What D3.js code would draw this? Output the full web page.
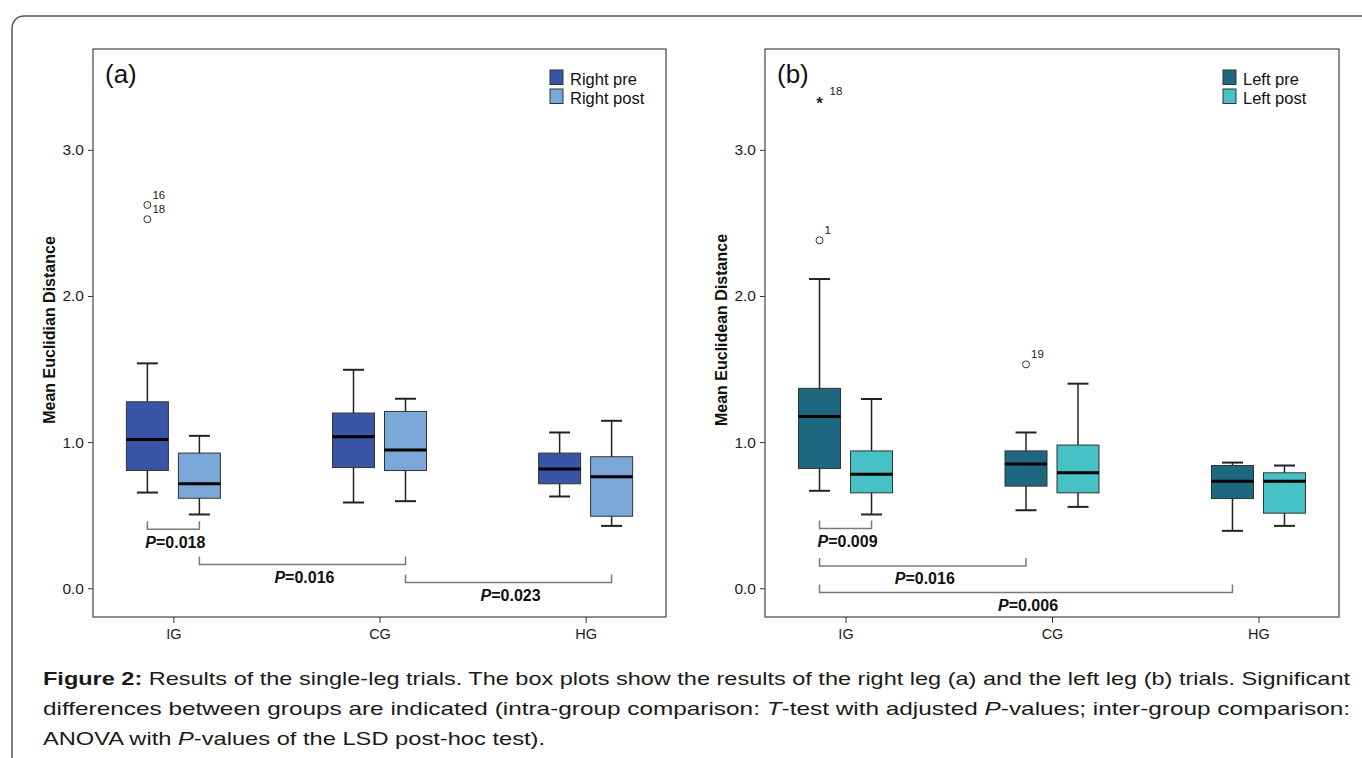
<!DOCTYPE html>
<html>
<head>
<meta charset="utf-8">
<script src="https://cdnjs.cloudflare.com/ajax/libs/d3/7.8.5/d3.min.js"></script>
<style>
  body { margin: 0; background: #fff; }
  svg { font-family: Arial, "Liberation Sans", sans-serif; display: block; }
</style>
</head>
<body>
<svg id="chart" width="1362" height="758"></svg>
<script>
var groups = ["IG", "CG", "HG"];
var yTicks = [0, 1, 2, 3];

// [lower whisker, Q1, median, Q3, upper whisker] per group
var rightPre  = [[0.655, 0.806, 1.018, 1.276, 1.539], [0.587, 0.826, 1.037, 1.199, 1.495], [0.628, 0.715, 0.817, 0.925, 1.066]];
var rightPost = [[0.505, 0.616, 0.715, 0.925, 1.043], [0.596, 0.806, 0.947, 1.210, 1.297], [0.427, 0.493, 0.763, 0.900, 1.146]];
var leftPre   = [[0.667, 0.820, 1.176, 1.368, 2.116], [0.534, 0.699, 0.850, 0.940, 1.066], [0.393, 0.614, 0.733, 0.840, 0.860]];
var leftPost  = [[0.505, 0.653, 0.780, 0.940, 1.295], [0.557, 0.653, 0.790, 0.980, 1.400], [0.427, 0.514, 0.733, 0.790, 0.840]];

var rightOutliers = [
  {group: "IG", series: 0, value: 2.623, id: "16", mark: "o"},
  {group: "IG", series: 0, value: 2.525, id: "18", mark: "o"}
];
var leftOutliers = [
  {group: "IG", series: 0, value: 3.342, id: "18", mark: "*"},
  {group: "IG", series: 0, value: 2.381, id: "1", mark: "o"},
  {group: "CG", series: 0, value: 1.532, id: "19", mark: "o"}
];

var rightTests = [
  {from: ["IG", 0], to: ["IG", 1], level: 0.404, p: "0.018"},
  {from: ["IG", 1], to: ["CG", 1], level: 0.162, p: "0.016"},
  {from: ["CG", 1], to: ["HG", 1], level: 0.039, p: "0.023"}
];
var leftTests = [
  {from: ["IG", 0], to: ["IG", 1], level: 0.409, p: "0.009"},
  {from: ["IG", 0], to: ["CG", 0], level: 0.153, p: "0.016"},
  {from: ["IG", 0], to: ["HG", 0], level: -0.029, p: "0.006"}
];

var svg = d3.select("#chart");

// rounded frame round the figure
svg.append("rect")
  .attr("x", 12).attr("y", 16)
  .attr("width", 1420).attr("height", 800)
  .attr("rx", 12)
  .attr("fill", "none")
  .attr("stroke", "#555")
  .attr("stroke-width", 1.5);

var plotTop = 49, plotBottom = 617;
var boxW = 42, shift = 26;

function drawPanel(opt) {
  var g = svg.append("g");
  var x = d3.scalePoint().domain(groups).range([opt.x0, opt.x1]).padding(0.39);
  var y = d3.scaleLinear().domain([-0.1965, 3.69]).range([plotBottom, plotTop]);
  var series = [opt.pre, opt.post];
  var xs = function(grp, s) { return x(grp) + (s === 0 ? -shift : shift); };

  g.append("rect")
    .attr("x", opt.x0).attr("y", plotTop)
    .attr("width", opt.x1 - opt.x0).attr("height", plotBottom - plotTop)
    .attr("fill", "none").attr("stroke", "#444").attr("stroke-width", 1.2);

  var yAxis = g.append("g")
    .attr("transform", "translate(" + opt.x0 + ",0)")
    .call(d3.axisLeft(y).tickValues(yTicks).tickFormat(d3.format(".1f")).tickSize(5).tickPadding(4));
  yAxis.select(".domain").remove();
  yAxis.selectAll("text").attr("font-size", "15.5px").attr("font-family", "Arial, 'Liberation Sans', sans-serif").attr("fill", "#222");
  yAxis.selectAll("line").attr("stroke", "#333");

  var xAxis = g.append("g")
    .attr("transform", "translate(0," + plotBottom + ")")
    .call(d3.axisBottom(x).tickSize(6).tickPadding(6));
  xAxis.select(".domain").remove();
  xAxis.selectAll("text").attr("font-size", "14.5px").attr("font-family", "Arial, 'Liberation Sans', sans-serif").attr("fill", "#222");
  xAxis.selectAll("line").attr("stroke", "#333");

  g.append("text")
    .attr("transform", "translate(" + (opt.x0 - 38) + ",330) rotate(-90)")
    .attr("text-anchor", "middle")
    .attr("font-size", "16px").attr("font-weight", "bold").attr("fill", "#111")
    .text(opt.yLabel);

  // boxes
  series.forEach(function(data, s) {
    var b = g.selectAll(".box" + s).data(data).enter().append("g");
    b.append("line")
      .attr("x1", function(d, i) { return xs(groups[i], s); })
      .attr("x2", function(d, i) { return xs(groups[i], s); })
      .attr("y1", function(d) { return y(d[0]); })
      .attr("y2", function(d) { return y(d[4]); })
      .attr("stroke", "#222").attr("stroke-width", 1.5);
    b.selectAll(".cap").data(function(d, i) { return [[d[0], i], [d[4], i]]; }).enter().append("line")
      .attr("x1", function(d) { return xs(groups[d[1]], s) - boxW / 4; })
      .attr("x2", function(d) { return xs(groups[d[1]], s) + boxW / 4; })
      .attr("y1", function(d) { return y(d[0]); })
      .attr("y2", function(d) { return y(d[0]); })
      .attr("stroke", "#222").attr("stroke-width", 2);
    b.append("rect")
      .attr("x", function(d, i) { return xs(groups[i], s) - boxW / 2; })
      .attr("y", function(d) { return y(d[3]); })
      .attr("width", boxW)
      .attr("height", function(d) { return y(d[1]) - y(d[3]); })
      .attr("fill", opt.colors[s])
      .attr("stroke", "#333").attr("stroke-width", 1);
    b.append("line")
      .attr("x1", function(d, i) { return xs(groups[i], s) - boxW / 2; })
      .attr("x2", function(d, i) { return xs(groups[i], s) + boxW / 2; })
      .attr("y1", function(d) { return y(d[2]); })
      .attr("y2", function(d) { return y(d[2]); })
      .attr("stroke", "#000").attr("stroke-width", 3);
  });

  // outliers
  opt.outliers.forEach(function(o) {
    var cx = xs(o.group, o.series), cy = y(o.value);
    if (o.mark === "o") {
      g.append("circle").attr("cx", cx).attr("cy", cy).attr("r", 3.5)
        .attr("fill", "#fff").attr("stroke", "#333").attr("stroke-width", 1);
      g.append("text").attr("x", cx + 5).attr("y", cy - 6)
        .attr("font-size", "11.5px").attr("fill", "#222").text(o.id);
    } else {
      g.append("text").attr("x", cx).attr("y", cy + 9).attr("text-anchor", "middle")
        .attr("font-size", "17px").attr("font-weight", "bold").attr("fill", "#222").text("*");
      g.append("text").attr("x", cx + 10).attr("y", cy - 5)
        .attr("font-size", "11.5px").attr("fill", "#222").text(o.id);
    }
  });

  // significance brackets
  opt.tests.forEach(function(t) {
    var xa = xs(t.from[0], t.from[1]), xb = xs(t.to[0], t.to[1]), ly = y(t.level);
    g.append("path")
      .attr("d", "M" + xa + "," + (ly - 8) + "V" + ly + "H" + xb + "V" + (ly - 8))
      .attr("fill", "none").attr("stroke", "#7a7a7a").attr("stroke-width", 1.5);
    var lab = g.append("text")
      .attr("x", (xa + xb) / 2 + 2).attr("y", ly + 18.5)
      .attr("text-anchor", "middle")
      .attr("font-size", "16px").attr("font-weight", "bold").attr("fill", "#111");
    lab.append("tspan").attr("font-style", "italic").text("P");
    lab.append("tspan").text("=" + t.p);
  });

  // panel letter and legend
  g.append("text").attr("x", opt.x0 + 12).attr("y", plotTop + 34)
    .attr("font-size", "26px").attr("fill", "#111").text(opt.letter);

  var leg = g.selectAll(".leg").data(opt.names).enter().append("g")
    .attr("transform", function(d, i) { return "translate(" + (opt.x1 - 116) + "," + (plotTop + 21 + i * 19) + ")"; });
  leg.append("rect").attr("width", 13).attr("height", 14.5)
    .attr("fill", function(d, i) { return opt.colors[i]; })
    .attr("stroke", "#333").attr("stroke-width", 1);
  leg.append("text").attr("x", 20).attr("y", 14.5)
    .attr("font-size", "16.5px").attr("fill", "#111").text(function(d) { return d; });
}

drawPanel({
  x0: 93, x1: 666, letter: "(a)", yLabel: "Mean Euclidian Distance",
  pre: rightPre, post: rightPost, colors: ["#3b55a6", "#7aa8d8"],
  names: ["Right pre", "Right post"], outliers: rightOutliers, tests: rightTests
});
drawPanel({
  x0: 765, x1: 1339, letter: "(b)", yLabel: "Mean Euclidean Distance",
  pre: leftPre, post: leftPost, colors: ["#1d6780", "#46c1c5"],
  names: ["Left pre", "Left post"], outliers: leftOutliers, tests: leftTests
});

// caption, three lines; the first two are justified to the full width
var cap = svg.append("g").attr("font-size", "19px").attr("fill", "#1a1a1a");
var l1 = cap.append("text").attr("x", 43).attr("y", 685)
  .attr("textLength", 1307).attr("lengthAdjust", "spacingAndGlyphs");
l1.append("tspan").attr("font-weight", "bold").text("Figure 2:");
l1.append("tspan").text(" Results of the single-leg trials. The box plots show the results of the right leg (a) and the left leg (b) trials. Significant");
var l2 = cap.append("text").attr("x", 43).attr("y", 715)
  .attr("textLength", 1307).attr("lengthAdjust", "spacingAndGlyphs");
l2.append("tspan").text("differences between groups are indicated (intra-group comparison: ");
l2.append("tspan").attr("font-style", "italic").text("T");
l2.append("tspan").text("-test with adjusted ");
l2.append("tspan").attr("font-style", "italic").text("P");
l2.append("tspan").text("-values; inter-group comparison:");
var l3 = cap.append("text").attr("x", 43).attr("y", 745)
  .attr("textLength", 502).attr("lengthAdjust", "spacingAndGlyphs");
l3.append("tspan").text("ANOVA with ");
l3.append("tspan").attr("font-style", "italic").text("P");
l3.append("tspan").text("-values of the LSD post-hoc test).");
</script>
</body>
</html>
